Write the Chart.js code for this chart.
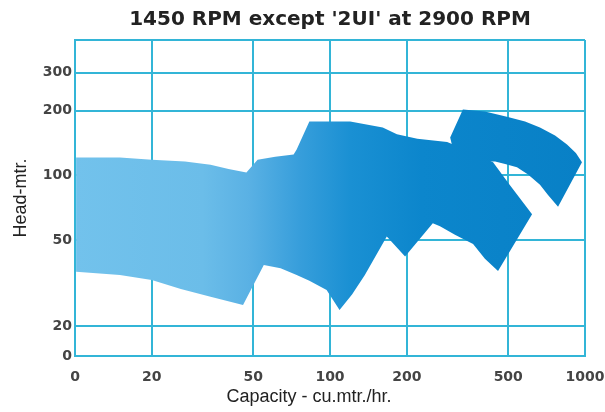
<!DOCTYPE html>
<html>
<head>
<meta charset="utf-8">
<script src="https://cdn.jsdelivr.net/npm/chart.js@4/dist/chart.umd.min.js"></script>
<style>
  body { margin: 0; background: #fff; }
</style>
</head>
<body>
<canvas id="pumpChart" width="605" height="412"></canvas>
<script>
// axis ticks (log scales, "0" sits at the bottom/left end)
let capTicks = [10, 20, 50, 100, 200, 500, 1000];
let capLabels = ['0', '20', '50', '100', '200', '500', '1000'];
let headTicks = [14.5, 20, 50, 100, 200, 300, 425];
let headLabels = ['0', '20', '50', '100', '200', '300', ''];

// 1450 RPM range outline - capacity (cu.mtr./hr.) and head (mtr.)
let rangeCap = [10.1, 15, 20, 27, 34, 40, 47, 52, 61, 72, 74, 83, 100, 120, 161, 183, 220, 288, 323, 436, 508, 620,
                456, 405, 364, 309, 270, 253, 197, 167, 137, 122, 109, 97, 83, 74, 64, 55, 45.6, 34, 26, 20, 15, 10.1];
let rangeHead = [121, 121, 118, 116, 112, 107, 103, 118, 122, 125, 132, 178, 178, 178, 167, 155, 148, 143, 135, 115, 90, 66,
                 36, 41, 48, 53, 58, 60, 42, 52, 34.5, 28, 23.7, 29.4, 32.4, 34.5, 37, 38.4, 25, 27.3, 29.7, 32.7, 34.5, 35.7];

// '2UI' at 2900 RPM
let uiCap = [332, 405, 494, 582, 666, 763, 850, 921, 973, 784, 716, 666, 598, 541, 486, 444, 387, 309, 296];
let uiHead = [202, 198, 187, 178, 167, 153, 139, 127, 115, 71.5, 81, 90.5, 101, 109, 113, 116, 116, 121, 150];

let gridColor = '#33b5d7';

function toPoints(xs, ys){
    let pts = [];
    for(i=0; i<xs.length; i++){
        pts.push({x: xs[i], y: ys[i]});
    }
    pts.push({x: xs[0], y: ys[0]});
    return pts;
}

function blueFill(context){
    let chart = context.chart;
    let area = chart.chartArea;
    if(!area) return '#3a9fdb';
    let g = chart.ctx.createLinearGradient(area.left, 0, area.right, 0);
    g.addColorStop(0, '#72c2ec');
    g.addColorStop(0.25, '#6bbde9');
    g.addColorStop(0.34, '#5ab1e4');
    g.addColorStop(0.44, '#379edb');
    g.addColorStop(0.54, '#1a90d3');
    g.addColorStop(0.68, '#0c86cc');
    g.addColorStop(1, '#0880c6');
    return g;
}

// x axis caption, set a little left of the plot centre like the original
const capTitle = {
    id: 'capTitle',
    afterDraw(chart){
        let ctx = chart.ctx;
        let area = chart.chartArea;
        ctx.save();
        ctx.font = '18px "Liberation Sans", Arial, sans-serif';
        ctx.fillStyle = '#222';
        ctx.textAlign = 'center';
        ctx.textBaseline = 'middle';
        ctx.fillText('Capacity - cu.mtr./hr.', area.left + 234, area.bottom + 41);
        ctx.restore();
    }
};

let tickFont = {family: '"DejaVu Sans", sans-serif', size: 14, weight: 'bold'};

new Chart(document.getElementById('pumpChart'), {
    type: 'scatter',
    data: {
        datasets: [
            {label: '1450 RPM', data: toPoints(rangeCap, rangeHead)},
            {label: '2UI 2900 RPM', data: toPoints(uiCap, uiHead)}
        ].map(d => Object.assign(d, {
            showLine: true,
            fill: 'shape',
            backgroundColor: blueFill,
            borderWidth: 0,
            pointRadius: 0,
            tension: 0
        }))
    },
    options: {
        responsive: false,
        animation: false,
        layout: {padding: {left: 0, right: 20, top: 0, bottom: 0}},
        plugins: {
            legend: {display: false},
            tooltip: {enabled: false},
            title: {
                display: true,
                fullSize: false,
                text: "1450 RPM except '2UI' at 2900 RPM",
                color: '#222',
                font: {family: '"DejaVu Sans", sans-serif', size: 20, weight: 'bold'},
                padding: {top: 8, bottom: 8}
            }
        },
        scales: {
            x: {
                type: 'logarithmic',
                min: 10,
                max: 1000,
                afterBuildTicks: s => { s.ticks = capTicks.map(v => ({value: v})); },
                afterFit: s => { s.height = 56; s.paddingLeft = 0; s.paddingRight = 0; },
                grid: {color: gridColor, lineWidth: 2, drawTicks: false},
                border: {color: gridColor, width: 2},
                ticks: {
                    callback: (v, i) => capLabels[i],
                    autoSkip: false,
                    maxRotation: 0,
                    padding: 13,
                    color: '#444',
                    font: tickFont
                }
            },
            y: {
                type: 'logarithmic',
                min: 14.5,
                max: 425,
                afterBuildTicks: s => { s.ticks = headTicks.map(v => ({value: v})); },
                afterFit: s => { s.width = 75; s.paddingTop = 0; s.paddingBottom = 0; },
                grid: {color: gridColor, lineWidth: 2, drawTicks: false},
                border: {color: gridColor, width: 2},
                ticks: {
                    callback: (v, i) => headLabels[i],
                    autoSkip: false,
                    padding: 3,
                    color: '#444',
                    font: tickFont
                },
                title: {
                    display: true,
                    text: 'Head-mtr.',
                    color: '#222',
                    font: {family: '"Liberation Sans", Arial, sans-serif', size: 18},
                    padding: {top: 10}
                }
            }
        }
    },
    plugins: [capTitle]
});
</script>
</body>
</html>
